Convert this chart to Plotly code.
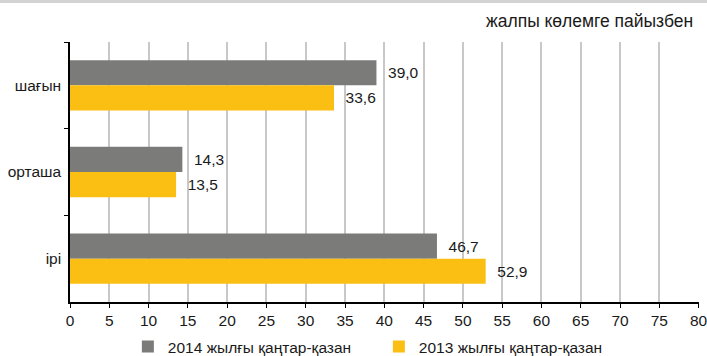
import plotly.graph_objects as go

categories = ["шағын", "орташа", "ірі"]
values_2014 = [39.0, 14.3, 46.7]
values_2013 = [33.6, 13.5, 52.9]
series_names = ["2014 жылғы қаңтар-қазан", "2013 жылғы қаңтар-қазан"]
x_ticks = list(range(0, 81, 5))

GRAY = "#7b7b79"
YELLOW = "#fbbf14"
FONT = "Liberation Sans, Arial, sans-serif"

def fmt(v):
    return "\u00a0\u00a0" + f"{v:.1f}".replace(".", ",")

fig = go.Figure()
fig.add_trace(go.Bar(
    y=categories, x=values_2014, orientation="h", name=series_names[0],
    marker=dict(color=GRAY, line=dict(width=0)),
    text=[fmt(v) for v in values_2014], textposition="outside",
    textfont=dict(family=FONT, size=15.5, color="#1a1a1a"), cliponaxis=False,
))
fig.add_trace(go.Bar(
    y=categories, x=values_2013, orientation="h", name=series_names[1],
    marker=dict(color=YELLOW, line=dict(width=0)),
    text=[fmt(v) for v in values_2013], textposition="outside",
    textfont=dict(family=FONT, size=15.5, color="#1a1a1a"), cliponaxis=False,
))

fig.update_layout(
    width=707, height=356,
    margin=dict(l=70, r=8, t=42, b=54, autoexpand=False),
    paper_bgcolor="white", plot_bgcolor="white",
    barmode="group", bargap=0.42, bargroupgap=0,
    font=dict(family=FONT, size=15.5, color="#1a1a1a"),
    showlegend=True,
    legend=dict(orientation="h", x=0.092, xanchor="left", y=-0.173, yanchor="middle",
                font=dict(family=FONT, size=15.5, color="#1a1a1a"),
                traceorder="normal", itemwidth=30, entrywidth=206,
                entrywidthmode="pixels", itemclick=False, bgcolor="rgba(0,0,0,0)"),
    xaxis=dict(range=[0, 80.05], tickvals=x_ticks, showgrid=True, gridcolor="#c8c8c8",
               gridwidth=2, zeroline=False, showline=True, linecolor="#000000",
               linewidth=1.5, ticks="outside", ticklen=4, tickcolor="#000000",
               automargin=False, ticklabeloverflow="allow",
               tickfont=dict(family=FONT, size=15.5, color="#1a1a1a")),
    yaxis=dict(autorange="reversed", categoryorder="array", categoryarray=categories,
               showline=True, linecolor="#000000", linewidth=1.5, automargin=False,
               ticks="outside", tickson="boundaries", ticklen=4, tickcolor="#000000",
               showgrid=False, tickfont=dict(family=FONT, size=15.5, color="#1a1a1a"),
               ticklabelstandoff=4),
    shapes=[dict(type="rect", xref="paper", yref="paper", x0=-0.2, x1=1.1,
                 y0=(302 - 3) / 260, y1=(302 + 1) / 260, fillcolor="#d3d3d3",
                 line=dict(width=0), layer="above")],
    annotations=[dict(text="жалпы көлемге пайызбен", xref="paper", yref="paper",
                      x=(695 - 70) / 629, y=(302 - 21) / 260, xanchor="right", yanchor="middle",
                      showarrow=False, font=dict(family=FONT, size=17.5, color="#1a1a1a"))],
)

fig.write_html("out.html", config={"displayModeBar": False},
               post_script="document.body.style.margin='0';document.body.style.overflow='hidden';")
